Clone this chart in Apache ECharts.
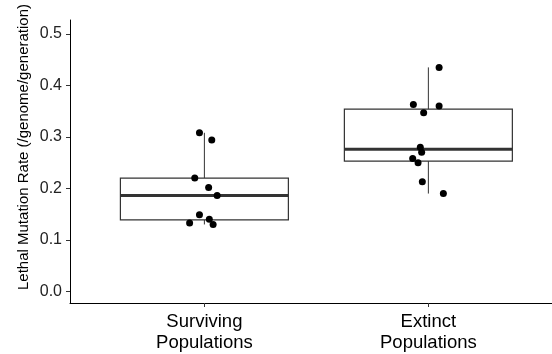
<!DOCTYPE html>
<html>
<head>
<meta charset="utf-8">
<script src="https://cdn.jsdelivr.net/npm/echarts@6/dist/echarts.min.js"></script>
<style>html,body{margin:0;padding:0;background:#fff}#c{width:552px;height:354px}</style>
</head>
<body>
<div id="c"></div>
<script>
// ---- data ----
var categories = ['Surviving\nPopulations', 'Extinct\nPopulations'];
var yTicks = [0.0, 0.1, 0.2, 0.3, 0.4, 0.5];
var boxMin = [0.130, 0.190];
var boxQ1 = [0.139, 0.253];
var boxMedian = [0.186, 0.276];
var boxQ3 = [0.220, 0.354];
var boxMax = [0.308, 0.435];
var survivingVals = [0.308, 0.294, 0.220, 0.202, 0.186, 0.149, 0.140, 0.133, 0.130];
var survivingJitter = [-0.022, 0.033, -0.043, 0.019, 0.057, -0.022, 0.022, -0.066, 0.039];
var extinctVals = [0.435, 0.363, 0.360, 0.347, 0.280, 0.270, 0.258, 0.250, 0.213, 0.190];
var extinctJitter = [0.048, -0.067, 0.048, -0.021, -0.036, -0.030, -0.070, -0.046, -0.027, 0.067];

var boxData = categories.map(function (c, i) {
  return [i + 1, boxMin[i], boxQ1[i], boxMedian[i], boxQ3[i], boxMax[i]];
});
var pts = [];
survivingVals.forEach(function (v, i) { pts.push([1 + survivingJitter[i], v]); });
extinctVals.forEach(function (v, i) { pts.push([2 + extinctJitter[i], v]); });

var chart = echarts.init(document.getElementById('c'), null, {renderer: 'canvas'});
var halfW = 0.375;
chart.setOption({
  animation: false,
  backgroundColor: '#fff',
  grid: {left: 70, right: 0, top: 20, bottom: 51},
  xAxis: {
    type: 'value', min: 0.4, max: 2.552,
    splitLine: {show: false},
    axisLine: {show: true, onZero: false, lineStyle: {color: '#000', width: 1}},
    axisTick: {show: true, customValues: [1, 2], length: 4, lineStyle: {color: '#333'}},
    axisLabel: {
      customValues: [1, 2], margin: 8,
      fontFamily: 'Liberation Sans', fontSize: 18.5, color: '#000', lineHeight: 21,
      formatter: function (v) { return categories[Math.round(v) - 1]; }
    }
  },
  yAxis: {
    type: 'value', min: -0.0225, max: 0.527,
    splitLine: {show: false},
    axisLine: {show: true, onZero: false, lineStyle: {color: '#000', width: 1}},
    axisTick: {show: true, customValues: yTicks, length: 4, lineStyle: {color: '#333'}},
    axisLabel: {
      customValues: yTicks, margin: 8,
      fontFamily: 'Liberation Sans', fontSize: 16, color: '#222',
      formatter: function (v) { return v.toFixed(1); }
    }
  },
  graphic: [{
    type: 'text', x: 24, y: 147, rotation: Math.PI / 2,
    style: {
      text: 'Lethal Mutation Rate (/genome/generation)',
      fontFamily: 'Liberation Sans', fontSize: 15, fill: '#000',
      align: 'center', verticalAlign: 'middle'
    }
  }],
  series: [{
    type: 'custom',
    data: boxData,
    encode: {x: 0, y: [1, 2, 3, 4, 5]},
    renderItem: function (params, api) {
      var x = api.value(0);
      var mn = api.coord([x, api.value(1)]);
      var q1 = api.coord([x - halfW, api.value(2)]);
      var med = api.coord([x - halfW, api.value(3)]);
      var q3 = api.coord([x + halfW, api.value(4)]);
      var mx = api.coord([x, api.value(5)]);
      var q1r = api.coord([x + halfW, api.value(2)]);
      var medR = api.coord([x + halfW, api.value(3)]);
      var ctrQ1 = api.coord([x, api.value(2)]);
      var ctrQ3 = api.coord([x, api.value(4)]);
      var stroke = '#333';
      return {
        type: 'group',
        children: [
          {type: 'line', shape: {x1: mx[0], y1: mx[1], x2: ctrQ3[0], y2: ctrQ3[1]}, style: {stroke: stroke, lineWidth: 1}},
          {type: 'line', shape: {x1: mn[0], y1: mn[1], x2: ctrQ1[0], y2: ctrQ1[1]}, style: {stroke: stroke, lineWidth: 1}},
          {type: 'rect', shape: {x: q1[0], y: q3[1], width: q1r[0] - q1[0], height: q1[1] - q3[1]},
            style: {fill: '#fff', stroke: stroke, lineWidth: 1.2}},
          {type: 'line', shape: {x1: med[0], y1: med[1], x2: medR[0], y2: medR[1]}, style: {stroke: stroke, lineWidth: 3}}
        ]
      };
    },
    z: 2
  }, {
    type: 'scatter',
    data: pts,
    symbol: 'circle',
    symbolSize: 7,
    itemStyle: {color: '#000', opacity: 1},
    z: 3
  }]
});
</script>
</body>
</html>
